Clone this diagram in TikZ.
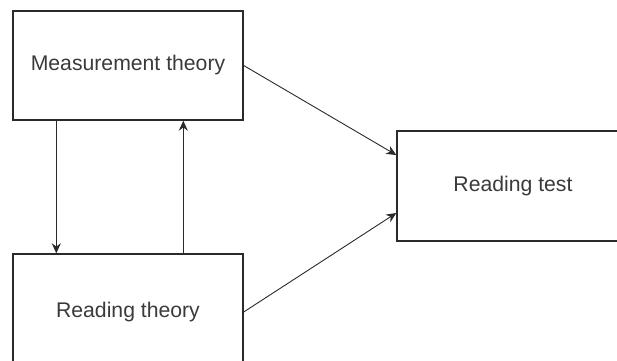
\documentclass[tikz,border=0pt]{standalone}
\usepackage{fontspec}
\setmainfont{Liberation Sans}
\usetikzlibrary{calc,arrows.meta}
\definecolor{ink}{HTML}{2A2A2A}
\definecolor{txt}{HTML}{3A3A3A}
\tikzset{
  box/.style={draw=ink, line width=1.4pt, minimum width=230pt, inner sep=0pt,
    text=txt, font=\fontsize{21.2}{24}\selectfont},
  arr/.style={draw=ink, line width=0.9pt, -{Stealth[length=10pt,width=9pt]}}
}
\begin{document}
\begin{tikzpicture}[x=1pt,y=-1pt]
\useasboundingbox (0,0) rectangle (617,360);
\clip (0,0) rectangle (617,360);
\node[box, minimum height=109pt] (mt) at (128,65.5) {Measurement theory};
\node[box, minimum height=116pt] (rth) at (128,312) {Reading theory};
\node[box, minimum width=232pt, minimum height=110pt] (rt) at (513,186) {Reading test};
\coordinate (t1) at ($(rt.west)+(0,-31)$);
\coordinate (t2) at ($(rt.west)+(0,27)$);
\draw[arr] (mt.east) -- (t1);
\draw[arr] (rth.east) -- (t2);
\draw[arr] ($(mt.south west)+(44,0)$) -- ($(rth.north west)+(44,0)$);
\draw[arr] ($(rth.north west)+(171,0)$) -- ($(mt.south west)+(171,0)$);
\end{tikzpicture}
\end{document}
